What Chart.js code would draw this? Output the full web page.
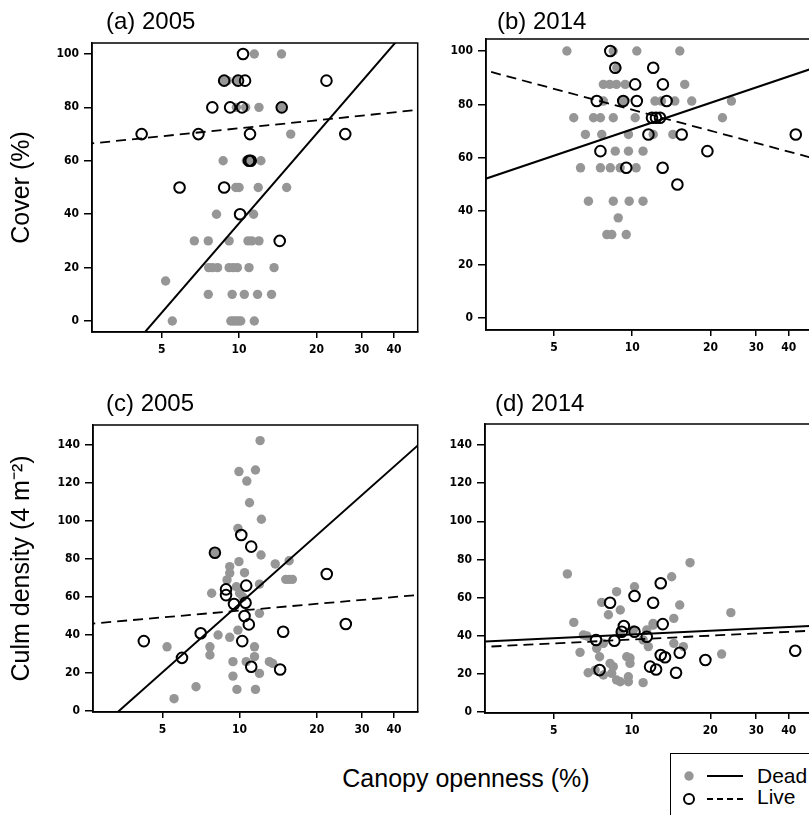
<!DOCTYPE html>
<html>
<head>
<meta charset="utf-8">
<script src="https://cdn.jsdelivr.net/npm/chart.js@4.4.1/dist/chart.umd.min.js"></script>
<style>
  html, body { margin: 0; padding: 0; background: #fff; overflow: hidden; }
  body { width: 809px; height: 815px; position: relative; font-family: 'Liberation Sans', Arial, sans-serif; color: #000; }
  canvas { position: absolute; }
  .ptitle { position: absolute; font-size: 24px; line-height: 24px; white-space: nowrap; }
  #xtitle { position: absolute; left: 466px; top: 766px; transform: translateX(-50%); font-size: 25px; line-height: 25px; white-space: nowrap; }
  #legend { position: absolute; left: 670px; top: 753px; width: 200px; height: 100px; border: 1.5px solid #000; background: #fff; }
  #legend svg { position: absolute; left: 0; top: 0; }
  .ltext { position: absolute; left: 86px; font-size: 21px; line-height: 21px; }
</style>
</head>
<body>
<canvas id="pa" width="425" height="362" style="left:0;top:0"></canvas>
<canvas id="pb" width="430" height="362" style="left:400px;top:0"></canvas>
<canvas id="pc" width="425" height="362" style="left:0;top:380px"></canvas>
<canvas id="pd" width="430" height="362" style="left:400px;top:380px"></canvas>

<div class="ptitle" style="left:106px;top:9px">(a) 2005</div>
<div class="ptitle" style="left:497px;top:9px">(b) 2014</div>
<div class="ptitle" style="left:106px;top:391px">(c) 2005</div>
<div class="ptitle" style="left:495px;top:391px">(d) 2014</div>
<div id="xtitle">Canopy openness (%)</div>

<div id="legend">
  <svg width="80" height="60">
    <circle cx="18" cy="22" r="4.7" fill="rgb(150,150,150)"></circle>
    <line x1="36" y1="22" x2="72" y2="22" stroke="#000" stroke-width="2"></line>
    <circle cx="18" cy="45" r="5" fill="none" stroke="#000" stroke-width="2"></circle>
    <line x1="36" y1="45" x2="72" y2="45" stroke="#000" stroke-width="1.8" stroke-dasharray="6,4"></line>
  </svg>
  <div class="ltext" style="top:11px">Dead</div>
  <div class="ltext" style="top:32px">Live</div>
</div>

<script>
// shared axis ticks
const xTicks = [5, 10, 20, 30, 40];
const coverTicks = [0, 20, 40, 60, 80, 100];
const densityTicks = [0, 20, 40, 60, 80, 100, 120, 140];
// x ends of the fitted lines
const fitX = [2.5, 55];

// (a) cover 2005
const aDeadX = [11.46, 14.62, 8.67, 9.0, 9.82, 9.76, 10.61, 11.95, 14.62, 15.88, 8.67, 10.67, 11.22, 12.16, 9.71, 10.0, 11.87, 15.31, 8.17, 11.39, 6.70, 7.59, 9.15, 10.83, 11.2, 11.95, 7.62, 7.89, 8.25, 9.15, 9.5, 9.85, 10.93, 13.68, 5.18, 7.59, 9.4, 10.48, 11.8, 13.37, 5.5, 9.29, 9.5, 9.71, 9.95, 10.15, 11.46];
const aDeadY = [100, 100, 90, 90, 90, 80, 80, 80, 80, 70, 60, 60, 60, 60, 50, 50, 50, 50, 40, 40, 30, 30, 30, 30, 30, 30, 20, 20, 20, 20, 20, 20, 20, 20, 15, 10, 10, 10, 10, 10, 0, 0, 0, 0, 0, 0, 0];
const aLiveX = [10.36, 8.75, 9.91, 10.55, 21.87, 7.87, 9.23, 10.27, 14.65, 4.18, 6.95, 11.03, 25.88, 10.93, 11.1, 5.87, 8.75, 10.09, 14.39];
const aLiveY = [100, 90, 90, 90, 90, 80, 80, 80, 80, 70, 70, 70, 70, 60, 60, 50, 50, 40, 30];
const aDeadFit = [-30.4, 119.0];
const aLiveFit = [66.2, 79.5];

// (b) cover 2014
const bDeadX = [5.61, 8.46, 10.42, 15.25, 8.73, 7.75, 8.2, 8.7, 9.4, 15.93, 7.75, 9.24, 12.24, 12.97, 14.59, 16.95, 24.09, 5.96, 7.1, 7.55, 8.46, 10.27, 22.25, 6.61, 7.64, 9.68, 12.05, 14.34, 8.61, 9.68, 11.01, 6.33, 7.55, 8.24, 8.99, 10.36, 6.79, 8.46, 9.74, 11.01, 8.84, 7.99, 8.35, 9.49];
const bDeadY = [100, 100, 100, 100, 93.75, 87.5, 87.5, 87.5, 87.5, 87.5, 81.25, 81.25, 81.25, 81.25, 81.25, 81.25, 81.25, 75, 75, 75, 75, 75, 75, 68.75, 68.75, 68.75, 68.75, 68.75, 62.5, 62.5, 62.5, 56.25, 56.25, 56.25, 56.25, 56.25, 43.75, 43.75, 43.75, 43.75, 37.5, 31.25, 31.25, 31.25];
const bLiveX = [8.24, 8.61, 12.05, 10.27, 13.13, 7.31, 9.24, 10.42, 13.57, 11.92, 12.35, 12.8, 11.55, 15.51, 42.6, 7.55, 19.47, 9.49, 13.1, 14.93];
const bLiveY = [100, 93.75, 93.75, 87.5, 87.5, 81.25, 81.25, 81.25, 81.25, 75, 75, 75, 68.75, 68.75, 68.75, 62.5, 62.5, 56.25, 56.25, 50];
const bDeadFit = [50.9, 95.0];
const bLiveFit = [93.7, 58.7];

// (c) culm density 2005
const cDeadX = [12.02, 11.53, 9.94, 10.67, 10.93, 12.16, 9.85, 12.12, 8.01, 9.94, 13.77, 15.6, 15.14, 15.6, 16.06, 9.15, 9.15, 10.45, 8.93, 11.95, 7.78, 9.71, 10.0, 10.3, 11.95, 8.24, 9.15, 9.85, 7.66, 7.66, 11.43, 11.43, 9.42, 10.61, 11.95, 9.42, 13.45, 9.76, 11.53, 6.76, 5.55, 5.21, 13.06];
const cDeadY = [142.3, 126.8, 126, 121, 109.6, 100.9, 96.1, 82.1, 83, 78.6, 77.4, 79.1, 69.3, 69.3, 69.3, 76, 72.6, 72.8, 69, 66.8, 62, 65.4, 62, 60, 51.4, 40, 38.8, 42.6, 33.8, 29.5, 33.8, 28.6, 26, 26, 19.8, 18.4, 25.1, 11.4, 11.4, 12.8, 6.5, 33.8, 26];
const cLiveX = [4.23, 5.96, 7.05, 8.01, 8.85, 8.85, 9.51, 10.15, 11.1, 10.61, 10.55, 10.45, 10.86, 10.24, 11.1, 14.79, 14.39, 21.87, 25.95];
const cLiveY = [36.8, 28, 40.9, 83.3, 64, 61, 56.3, 92.6, 86.5, 66, 57, 50, 45.6, 36.8, 23.3, 41.7, 21.9, 72.1, 45.8];
const cDeadFit = [-15.7, 145.2];
const cLiveFit = [45.7, 61.6];

// (d) culm density 2014
const dDeadX = [5.64, 5.97, 6.31, 6.70, 6.78, 7.64, 8.11, 8.72, 9.01, 10.22, 14.2, 16.71, 15.25, 14.47, 23.98, 22.1, 15.75, 12.05, 11.03, 7.76, 7.5, 8.47, 8.72, 9.68, 11.03, 9.54, 9.82, 7.76, 9.01, 10.12, 11.55, 8.35, 7.31, 6.5, 14.47, 7.21, 9.01, 9.68, 8.23, 9.82, 11.39, 12.05];
const dDeadY = [72.4, 47, 31.3, 39.9, 20.6, 57.5, 51, 63.1, 53.5, 65.7, 70.9, 78.3, 56.1, 49.1, 52.1, 30.4, 34.3, 45.6, 37.8, 36, 29, 23.8, 16.8, 18.5, 15.4, 29, 28.3, 19.4, 41.3, 43, 34.3, 20.3, 33.4, 40.4, 36, 22, 15.9, 15.9, 25.5, 25.5, 43, 46.5];
const dLiveX = [7.27, 7.5, 8.23, 8.55, 9.30, 9.13, 10.22, 10.22, 11.39, 12.05, 12.89, 13.12, 11.73, 12.37, 12.89, 13.39, 15.25, 14.76, 19.14, 42.4];
const dLiveY = [37.8, 22, 57.3, 37.4, 45.1, 42.1, 60.8, 42.1, 39.5, 57.3, 67.5, 46.1, 23.8, 22.3, 29.9, 28.7, 31.1, 20.6, 27.3, 32.1];
const dDeadFit = [36.7, 45.5];
const dLiveFit = [33.95, 43.0];

const tickFont = {family: "'DejaVu Sans Condensed', 'Liberation Sans', sans-serif", size: 12, weight: 'bold'};

function pts(xs, ys) {
    return xs.map((x, i) => ({x: x, y: ys[i]}));
}

// box round the plot area
const frame = {
    id: 'frame',
    beforeDatasetsDraw(chart) {
        const {ctx, chartArea: a} = chart;
        ctx.save();
        ctx.strokeStyle = '#000';
        ctx.lineWidth = 1.5;
        ctx.strokeRect(a.left, a.top, a.right - a.left, a.bottom - a.top);
        ctx.restore();
    }
};

function panel(id, p) {
    new Chart(document.getElementById(id), {
        type: 'scatter',
        data: {
            datasets: [
                {type: 'line', data: pts(fitX, p.deadFit), borderColor: '#000', borderWidth: 2, pointRadius: 0, clip: 0, order: 0},
                {type: 'line', data: pts(fitX, p.liveFit), borderColor: '#000', borderWidth: 1.8, borderDash: [10, 6], pointRadius: 0, clip: 0, order: 0},
                {data: pts(p.liveX, p.liveY), pointRadius: 5.3, backgroundColor: 'rgba(0,0,0,0)', borderColor: '#000', borderWidth: 2, order: 1},
                {data: pts(p.deadX, p.deadY), pointRadius: 4.7, backgroundColor: 'rgb(150,150,150)', borderWidth: 0, order: 2}
            ]
        },
        options: {
            responsive: false,
            animation: false,
            devicePixelRatio: 1,
            events: [],
            layout: {padding: {top: p.top, right: p.right, left: 0, bottom: 0}},
            plugins: {legend: {display: false}, tooltip: {enabled: false}},
            scales: {
                x: {
                    type: 'logarithmic',
                    min: p.xMin,
                    max: p.xMax,
                    afterBuildTicks: s => { s.ticks = xTicks.map(v => ({value: v})); },
                    afterFit: s => { s.height = p.xH; },
                    ticks: {callback: v => String(v), color: '#000', font: tickFont, padding: 5, maxRotation: 0, autoSkip: false},
                    grid: {drawOnChartArea: false, tickLength: 6, color: '#000', lineWidth: 1.5},
                    border: {color: '#000', width: 1.5}
                },
                y: {
                    min: p.yMin,
                    max: p.yMax,
                    afterBuildTicks: s => { s.ticks = p.yTicks.map(v => ({value: v})); },
                    afterFit: s => { s.width = p.yW; },
                    ticks: {color: '#000', font: tickFont, padding: 5},
                    grid: {drawOnChartArea: false, tickLength: 8, color: '#000', lineWidth: 1.5},
                    border: {color: '#000', width: 1.5},
                    title: {
                        display: !!p.yTitle,
                        text: p.yTitle || '',
                        color: '#000',
                        font: {family: "'Liberation Sans', Arial, sans-serif", size: 25},
                        padding: {top: 7, bottom: 0}
                    }
                }
            }
        },
        plugins: [frame]
    });
}

panel('pa', {deadX: aDeadX, deadY: aDeadY, liveX: aLiveX, liveY: aLiveY, deadFit: aDeadFit, liveFit: aLiveFit,
    xMin: 2.68, xMax: 49.5, yMin: -4.1, yMax: 104.1, yTicks: coverTicks, top: 43, right: 5, yW: 92, xH: 30, yTitle: 'Cover (%)'});
panel('pb', {deadX: bDeadX, deadY: bDeadY, liveX: bLiveX, liveY: bLiveY, deadFit: bDeadFit, liveFit: bLiveFit,
    xMin: 2.74, xMax: 52.8, yMin: -4.5, yMax: 104.5, yTicks: coverTicks, top: 39, right: 10, yW: 86, xH: 32});
panel('pc', {deadX: cDeadX, deadY: cDeadY, liveX: cLiveX, liveY: cLiveY, deadFit: cDeadFit, liveFit: cLiveFit,
    xMin: 2.68, xMax: 49.5, yMin: -0.5, yMax: 150.5, yTicks: densityTicks, top: 45, right: 5, yW: 93, xH: 30, yTitle: 'Culm density (4 m\u207B\u00B2)'});
panel('pd', {deadX: dDeadX, deadY: dDeadY, liveX: dLiveX, liveY: dLiveY, deadFit: dDeadFit, liveFit: dLiveFit,
    xMin: 2.72, xMax: 52.8, yMin: -0.5, yMax: 151, yTicks: densityTicks, top: 44, right: 10, yW: 85, xH: 29});
</script>
</body>
</html>
